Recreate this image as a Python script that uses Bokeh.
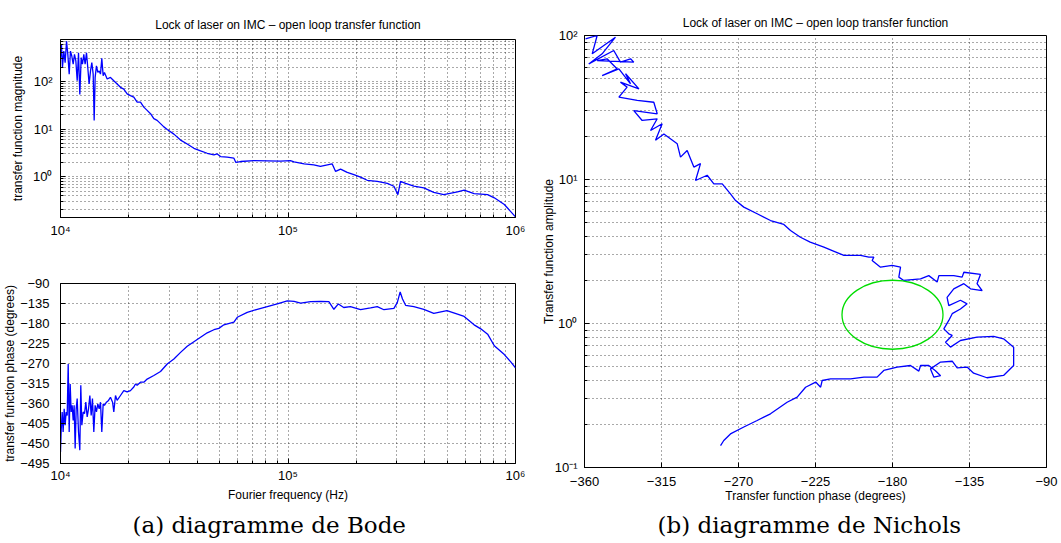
from bokeh.plotting import figure
from bokeh.models import Range1d, FixedTicker, CustomJSTickFormatter, Title
from bokeh.layouts import row, column
from bokeh.embed import file_html
from bokeh.resources import INLINE

# ---------------- data ----------------
freq_mag = [1.000e4, 1.010e4, 1.020e4, 1.034e4, 1.048e4, 1.063e4, 1.077e4, 1.092e4, 1.106e4, 1.121e4,
            1.137e4, 1.152e4, 1.168e4, 1.184e4, 1.200e4, 1.216e4, 1.233e4, 1.249e4, 1.266e4, 1.283e4,
            1.301e4, 1.318e4, 1.336e4, 1.355e4, 1.373e4, 1.392e4, 1.406e4, 1.420e4, 1.439e4, 1.459e4,
            1.479e4, 1.499e4, 1.519e4, 1.540e4, 1.560e4, 1.604e4, 1.658e4, 1.715e4, 1.774e4, 1.835e4,
            1.898e4, 1.963e4, 2.030e4, 2.100e4, 2.172e4, 2.247e4, 2.324e4, 2.404e4, 2.487e4, 2.572e4,
            2.660e4, 2.752e4, 2.847e4, 2.945e4, 3.151e4, 3.371e4, 3.606e4, 3.858e4, 4.127e4, 4.415e4,
            4.724e4, 4.886e4, 5.054e4, 5.406e4, 5.784e4, 5.900e4, 6.188e4, 7.083e4, 8.107e4, 9.279e4,
            1.025e5, 1.063e5, 1.178e5, 1.298e5, 1.388e5, 1.563e5, 1.619e5, 1.703e5, 1.821e5, 1.948e5,
            2.084e5, 2.230e5, 2.468e5, 2.731e5, 2.921e5, 3.041e5, 3.123e5, 3.288e5, 3.574e5, 3.953e5,
            4.373e5, 4.838e5, 5.559e5, 5.946e5, 6.577e5, 7.543e5, 8.069e5, 8.932e5, 1.000e6]
magnitude = [315, 596, 195, 433, 248, 698, 369, 142, 433, 341,
             229, 369, 269, 103, 400, 52.8, 315, 229, 369, 229,
             400, 195, 88, 166, 248, 142, 15.2, 121, 211, 154,
             166, 142, 305, 131, 154, 112, 121, 103, 88, 75,
             69, 54.6, 50.4, 46.6, 36.6, 36.6, 28.8, 24.6, 21.0, 16.5,
             15.2, 13.0, 11.1, 9.77, 7.82, 5.86, 4.84, 3.94, 3.47, 3.10,
             2.86, 3.00, 2.64, 2.56, 2.44, 1.99, 2.08, 2.18, 2.15, 2.11,
             2.18, 2.05, 1.86, 1.77, 1.64, 1.86, 1.29, 1.44, 1.23, 1.10,
             0.98, 0.84, 0.80, 0.72, 0.63, 0.42, 0.80, 0.72, 0.63, 0.58,
             0.47, 0.42, 0.48, 0.52, 0.44, 0.42, 0.36, 0.26, 0.143]

freq_phase = [1.000e4, 1.007e4, 1.017e4, 1.027e4, 1.038e4, 1.048e4, 1.059e4, 1.070e4, 1.081e4, 1.092e4,
              1.103e4, 1.114e4, 1.125e4, 1.137e4, 1.148e4, 1.160e4, 1.172e4, 1.184e4, 1.200e4, 1.216e4,
              1.228e4, 1.241e4, 1.258e4, 1.275e4, 1.292e4, 1.310e4, 1.328e4, 1.346e4, 1.364e4, 1.382e4,
              1.401e4, 1.420e4, 1.439e4, 1.459e4, 1.479e4, 1.499e4, 1.519e4, 1.540e4, 1.560e4, 1.592e4,
              1.626e4, 1.658e4, 1.694e4, 1.715e4, 1.745e4, 1.774e4, 1.835e4, 1.898e4, 1.963e4, 2.030e4,
              2.100e4, 2.136e4, 2.172e4, 2.247e4, 2.324e4, 2.404e4, 2.572e4, 2.752e4, 2.945e4, 3.151e4,
              3.371e4, 3.606e4, 3.858e4, 4.127e4, 4.415e4, 4.724e4, 4.967e4, 5.226e4, 5.784e4, 5.984e4,
              6.620e4, 7.326e4, 8.107e4, 8.970e4, 9.926e4, 1.063e5, 1.137e5, 1.258e5, 1.388e5, 1.512e5,
              1.591e5, 1.665e5, 1.758e5, 1.881e5, 2.084e5, 2.306e5, 2.468e5, 2.641e5, 2.921e5, 3.022e5,
              3.112e5, 3.187e5, 3.288e5, 3.574e5, 3.953e5, 4.373e5, 4.995e5, 5.559e5, 5.946e5, 6.577e5,
              7.036e5, 7.543e5, 8.069e5, 8.932e5, 9.552e5, 1.000e6]
phase_deg = [-469, -420, -379, -424, -372, -409, -379, -387, -271, -424,
             -316, -379, -364, -398, -364, -461, -372, -349, -424, -465,
             -319, -409, -379, -383, -357, -390, -372, -342, -387, -349,
             -424, -364, -379, -361, -372, -357, -424, -361, -364, -357,
             -353, -346, -357, -379, -342, -353, -342, -331, -334, -331,
             -323, -316, -319, -312, -312, -305, -297, -288, -271, -260,
             -245, -231, -221, -211, -201, -194, -191, -183, -177, -166,
             -155, -148, -142, -136, -129, -130, -134, -131, -130, -131,
             -148, -136, -144, -142, -149, -145, -142, -149, -146, -133,
             -109, -125, -139, -142, -148, -157, -151, -159, -164, -183,
             -192, -204, -230, -250, -267, -280]

nichols_phase = [-359.4, -352.6, -355.5, -341.9, -349.7, -357.5, -342.9, -339.0, -333.1, -331.2,
                 -352.6, -346.8, -340.9, -349.7, -339.9, -333.1, -336.0, -328.2, -339.0, -335.1,
                 -339.9, -329.2, -319.5, -317.5, -331.2, -326.3, -317.5, -321.4, -314.6, -318.5,
                 -313.6, -305.8, -303.9, -300.0, -296.1, -292.2, -295.1, -288.3, -284.4, -279.5,
                 -274.7, -271.7, -266.9, -259.1, -251.3, -243.5, -239.6, -233.8, -228.1, -220.1,
                 -215.2,
                 -208.4, -198.7, -193.8, -190.9, -191.9, -187.0, -180.2, -175.3, -176.3, -173.4,
                 -163.6, -158.8, -153.9, -152.9, -144.2, -139.3, -138.3, -128.6, -130.6, -127.6,
                 -134.4, -138.3, -144.2, -148.1, -147.1, -140.3, -136.4, -140.3, -145.1, -147.1,
                 -150.0, -147.1, -145.1, -149.0, -146.1, -140.3, -130.6, -120.9, -115.1, -109.2,
                 -109.2, -115.1, -124.8, -132.6, -136.4, -142.2, -145.1, -151.9, -157.8, -155.8,
                 -151.9, -154.9, -158.8, -163.6, -164.6, -169.5, -177.3, -185.1, -189.0, -196.7,
                 -204.5, -216.2, -221.1, -222.0, -224.9, -230.8, -235.7, -241.6, -251.3, -259.1,
                 -266.9, -274.7, -278.6, -280.5]
nichols_amp = [94.8, 100, 74.6, 97.3, 74.6, 63.5, 78.7, 65.3, 68.9, 65.3,
               67.0, 68.9, 58.6, 52.7, 58.6, 46.2, 54.2, 42.6, 47.4, 43.8,
               37.3, 35.4, 34.4, 28.6, 30.1, 25.7, 26.4, 21.9, 24.4, 18.7,
               20.7, 17.7, 14.3, 15.9, 12.2, 12.9, 9.84, 10.7, 9.33, 9.33,
               7.95, 7.14, 6.43, 5.78, 5.19, 4.87, 4.42, 3.97, 3.67, 3.39,
               3.21,
               2.97, 2.97, 2.89, 2.89, 2.74, 2.46, 2.53, 2.46, 2.10, 1.99,
               2.04, 2.15, 1.94, 2.15, 2.15, 2.10, 2.27, 2.19, 1.89, 1.69,
               1.74, 1.89, 1.74, 1.52, 1.33, 1.45, 1.37, 1.26, 1.17, 1.05,
               0.918, 0.848, 0.826, 0.741, 0.685, 0.762, 0.804, 0.813, 0.783, 0.685,
               0.511, 0.436, 0.420, 0.452, 0.498, 0.492, 0.547, 0.540, 0.484, 0.424,
               0.434, 0.47, 0.511, 0.511, 0.467, 0.511, 0.498, 0.472, 0.424, 0.424,
               0.413, 0.413, 0.402, 0.361, 0.392, 0.361, 0.308, 0.284, 0.236, 0.212,
               0.191, 0.171, 0.154, 0.142]

margin_center_phase = [-180]
margin_center_amp = [1.15]

freq_ticks = [1e4, 1e5, 1e6]
mag_ticks = [1, 10, 100]
phase_ticks = [-495, -450, -405, -360, -315, -270, -225, -180, -135, -90]
nichols_x_ticks = [-360, -315, -270, -225, -180, -135, -90]
amp_ticks = [0.1, 1, 10, 100]

title_text = "Lock of laser on IMC \u2013 open loop transfer function"

# ---------------- helpers ----------------
LOG_FMT = CustomJSTickFormatter(code=r"""
const sup = {'0':'\u2070','1':'\u00b9','2':'\u00b2','3':'\u00b3','4':'\u2074','5':'\u2075',
             '6':'\u2076','7':'\u2077','8':'\u2078','9':'\u2079','-':'\u207b'};
const e = Math.round(Math.log10(tick));
return '10' + String(e).split('').map(c => sup[c]).join('');
""")
LIN_FMT = CustomJSTickFormatter(code=r"""
return tick < 0 ? '\u2212' + Math.abs(tick) : String(tick);
""")

SANS = "Liberation Sans"
BLUE = "#0000ff"
GRID_COLOR = "#1a1a1a"
GRID_ALPHA = 0.75


def log_minors(ticks):
    out = []
    for t in ticks[:-1]:
        out += [t * k for k in range(2, 10)]
    return out


def style(p):
    p.background_fill_color = "white"
    p.border_fill_color = "white"
    p.outline_line_color = "black"
    p.outline_line_alpha = 1
    p.outline_line_width = 1
    for ax in p.axis:
        ax.axis_line_color = "black"
        ax.major_tick_in = 5
        ax.major_tick_out = 0
        ax.minor_tick_in = 3
        ax.minor_tick_out = 0
        ax.major_tick_line_color = "black"
        ax.minor_tick_line_color = "black"
        ax.major_label_text_font = SANS
        ax.major_label_text_font_size = "13px"
        ax.major_label_text_color = "black"
        ax.axis_label_text_font = SANS
        ax.axis_label_text_font_size = "12px"
        ax.axis_label_text_font_style = "normal"
        ax.axis_label_text_color = "black"
    for g in p.grid:
        g.grid_line_color = GRID_COLOR
        g.grid_line_alpha = GRID_ALPHA
        g.grid_line_dash = "1 3"
        g.grid_line_width = 1


def minor_grid(g):
    g.minor_grid_line_color = GRID_COLOR
    g.minor_grid_line_alpha = GRID_ALPHA
    g.minor_grid_line_dash = "1 3"
    g.minor_grid_line_width = 1


def set_title(p, standoff):
    p.title.text = title_text
    p.title.align = "center"
    p.title.text_font = SANS
    p.title.text_font_size = "12px"
    p.title.text_font_style = "normal"
    p.title.text_color = "black"
    p.title.standoff = standoff


def caption(text, offset, standoff):
    return Title(text=text, align="left", offset=offset,
                 text_font="DejaVu Serif", text_font_size="23px",
                 text_font_style="normal", text_color="black", standoff=standoff)


# ---------------- (a) Bode: magnitude ----------------
p1 = figure(width=530, height=240, x_axis_type="log", y_axis_type="log",
            x_range=Range1d(1e4, 1e6), y_range=Range1d(0.139, 757),
            output_backend="svg", toolbar_location=None,
            min_border_left=60, min_border_right=15, min_border_top=39, min_border_bottom=22)
p1.line(freq_mag, magnitude, line_color=BLUE, line_width=1.3)
p1.xaxis.ticker = FixedTicker(ticks=freq_ticks, minor_ticks=log_minors(freq_ticks))
p1.yaxis.ticker = FixedTicker(ticks=mag_ticks, minor_ticks=[0.2, 0.3, 0.4, 0.5, 0.6, 0.7, 0.8, 0.9] + log_minors([1, 10, 100, 1000]))
p1.xaxis.formatter = LOG_FMT
p1.yaxis.formatter = LOG_FMT
p1.yaxis.axis_label = "transfer function magnitude"
style(p1)
minor_grid(p1.xgrid[0])
minor_grid(p1.ygrid[0])
p1.xaxis.major_label_standoff = 5
p1.yaxis.major_label_standoff = 8
p1.yaxis.axis_label_standoff = 5
set_title(p1, 15)

# ---------------- (a) Bode: phase ----------------
p2 = figure(width=530, height=303, x_axis_type="log",
            x_range=Range1d(1e4, 1e6), y_range=Range1d(-495, -90),
            output_backend="svg", toolbar_location=None,
            min_border_left=60, min_border_right=15, min_border_top=43, min_border_bottom=78)
p2.line(freq_phase, phase_deg, line_color=BLUE, line_width=1.3)
p2.xaxis.ticker = FixedTicker(ticks=freq_ticks, minor_ticks=log_minors(freq_ticks))
p2.yaxis.ticker = FixedTicker(ticks=phase_ticks)
p2.xaxis.formatter = LOG_FMT
p2.yaxis.formatter = LIN_FMT
p2.yaxis.axis_label = "transfer function phase (degrees)"
p2.xaxis.axis_label = "Fourier frequency (Hz)"
style(p2)
minor_grid(p2.xgrid[0])
p2.xaxis.major_label_standoff = 4
p2.xaxis.axis_label_standoff = 2
p2.yaxis.major_label_standoff = 11
p2.yaxis.axis_label_standoff = 0
p2.add_layout(caption("(a) diagramme de Bode", 72, 11), "below")

# ---------------- (b) Nichols ----------------
p3 = figure(width=531, height=543, y_axis_type="log",
            x_range=Range1d(-360, -90), y_range=Range1d(0.1, 100),
            output_backend="svg", toolbar_location=None,
            min_border_left=54, min_border_right=15, min_border_top=35, min_border_bottom=76)
p3.line(nichols_phase, nichols_amp, line_color=BLUE, line_width=1.3)
p3.ellipse(x=margin_center_phase, y=margin_center_amp, width=101, height=69,
           width_units="screen", height_units="screen",
           fill_alpha=0, line_color="#00dd00", line_width=1.3)
p3.xaxis.ticker = FixedTicker(ticks=nichols_x_ticks)
p3.yaxis.ticker = FixedTicker(ticks=amp_ticks, minor_ticks=log_minors(amp_ticks))
p3.xaxis.formatter = LIN_FMT
p3.yaxis.formatter = LOG_FMT
p3.xaxis.axis_label = "Transfer function phase (degrees)"
p3.yaxis.axis_label = "Transfer function amplitude"
style(p3)
minor_grid(p3.ygrid[0])
p3.xaxis.major_label_standoff = 9
p3.xaxis.axis_label_standoff = 0
p3.yaxis.major_label_standoff = 7
p3.yaxis.axis_label_standoff = -4
set_title(p3, 11)
p3.add_layout(caption("(b) diagramme de Nichols", 73, 8), "below")

layout = row(column(p1, p2), p3)
open("out.html", "w").write(file_html(layout, INLINE))
